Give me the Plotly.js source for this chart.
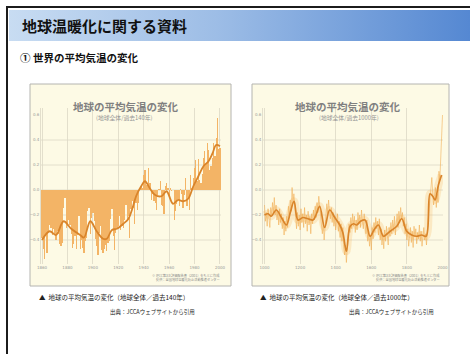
<!DOCTYPE html>
<html lang="ja">
<head>
<meta charset="utf-8">
<title>地球温暖化に関する資料</title>
<script src="https://cdn.plot.ly/plotly-3.0.1.min.js"></script>
<style>
  html, body { margin: 0; padding: 0; background: #fff; }
  #slide { position: relative; width: 470px; height: 354px; overflow: hidden; background: #fff; }
  #frame { position: absolute; left: 6px; top: 6px; width: 480px; height: 360px;
           border-top: 2px solid #1c1c1c; border-left: 2px solid #1c1c1c; }
  #band { position: absolute; left: 9px; top: 10px; right: 0; height: 31px;
          background: linear-gradient(90deg, #c8dcf2 0%, #9dbde6 45%, #5588d2 100%); }
  #chart { position: absolute; left: 0; top: 0; width: 470px; height: 354px; }
</style>
</head>
<body>
<div id="slide">
  <div id="frame"></div>
  <div id="band"></div>
  <div id="chart"></div>
</div>
<script>
// Global mean temperature anomaly (°C), annual, 1860-2000
const startYear140 = 1860;
const annual140 = [
  -0.38,-0.47,-0.55,-0.36,-0.50,-0.33,-0.28,-0.30,-0.36,-0.31,
  -0.36,-0.40,-0.33,-0.35,-0.43,-0.45,-0.42,-0.14,-0.06,-0.30,
  -0.29,-0.24,-0.28,-0.35,-0.46,-0.43,-0.37,-0.47,-0.36,-0.21,
  -0.47,-0.40,-0.46,-0.50,-0.41,-0.38,-0.17,-0.14,-0.35,-0.22,
  -0.18,-0.25,-0.39,-0.45,-0.52,-0.34,-0.29,-0.48,-0.50,-0.47,
  -0.44,-0.49,-0.42,-0.41,-0.23,-0.15,-0.37,-0.48,-0.34,-0.30,
  -0.29,-0.21,-0.32,-0.29,-0.30,-0.24,-0.12,-0.23,-0.21,-0.38,
  -0.15,-0.09,-0.14,-0.27,-0.10,-0.16,-0.10, 0.02, 0.04, 0.02,
   0.12, 0.16, 0.04, 0.05, 0.18, 0.06,-0.08,-0.03,-0.09,-0.10,
  -0.16,-0.04, 0.01, 0.07,-0.12,-0.13,-0.19, 0.03, 0.06, 0.02,
  -0.05, 0.02,-0.01, 0.00,-0.24,-0.17,-0.11,-0.07,-0.13, 0.01,
  -0.03,-0.14,-0.04, 0.10,-0.13,-0.07,-0.16, 0.12, 0.02, 0.10,
   0.18, 0.24, 0.07, 0.25, 0.08, 0.06, 0.13, 0.26, 0.31, 0.21,
   0.38, 0.32, 0.16, 0.19, 0.26, 0.38, 0.27, 0.42, 0.58, 0.33,
   0.34
];
const years140 = annual140.map((_, i) => startYear140 + i);

// Smoothed curve, 1860-2000
const smoothYears140 = [1860,1866,1871,1877,1883,1890,1893,1898,1903,1908,1911,1915,1919,1924,1928,1931,1934,1938,1941,1945,1949,1954,1958,1963,1967,1971,1975,1979,1983,1987,1991,1994,1997,2000];
const smooth140 = [-0.40,-0.33,-0.36,-0.25,-0.31,-0.36,-0.38,-0.25,-0.33,-0.39,-0.39,-0.32,-0.31,-0.27,-0.23,-0.15,-0.05,0.03,0.07,0.01,-0.04,-0.05,-0.01,-0.11,-0.08,-0.09,-0.07,0.03,0.11,0.19,0.23,0.29,0.36,0.35];

// Reconstructed anomaly, 1000-2000, one value every 5 years
const startYear1000 = 1000;
const stepYears1000 = 5;
const annual1000 = [
  -0.12,-0.25,-0.18,-0.29,-0.15,-0.22,-0.30,-0.14,-0.21,-0.10,-0.19,-0.06,-0.20,-0.12,-0.24,-0.17,-0.28,-0.15,-0.26,-0.19,
  -0.31,-0.22,-0.36,-0.25,-0.33,-0.21,-0.30,-0.13,-0.22,-0.08,-0.17, 0.02,-0.11,-0.03,-0.14,-0.22,-0.31,-0.18,-0.29,-0.20,
  -0.32,-0.15,-0.26,-0.19,-0.30,-0.14,-0.27,-0.20,-0.33,-0.17,-0.28,-0.21,-0.35,-0.19,-0.27,-0.16,-0.24,-0.13,-0.22,-0.10,
  -0.18,-0.05,-0.15,-0.20,-0.28,-0.35,-0.26,-0.40,-0.29,-0.22,-0.11,-0.19,-0.08,-0.17,-0.23,-0.14,-0.26,-0.18,-0.29,-0.21,
  -0.32,-0.24,-0.19,-0.33,-0.25,-0.38,-0.27,-0.41,-0.30,-0.45,-0.52,-0.44,-0.58,-0.47,-0.36,-0.27,-0.34,-0.22,-0.31,-0.19,
  -0.29,-0.21,-0.34,-0.24,-0.32,-0.18,-0.27,-0.20,-0.30,-0.16,-0.25,-0.31,-0.19,-0.28,-0.35,-0.24,-0.41,-0.33,-0.45,-0.36,
  -0.48,-0.30,-0.39,-0.26,-0.34,-0.22,-0.31,-0.25,-0.36,-0.23,-0.40,-0.31,-0.44,-0.35,-0.47,-0.32,-0.41,-0.29,-0.38,-0.44,
  -0.30,-0.37,-0.26,-0.35,-0.24,-0.33,-0.21,-0.36,-0.27,-0.19,-0.30,-0.17,-0.26,-0.14,-0.23,-0.18,-0.29,-0.22,-0.35,-0.27,
  -0.40,-0.31,-0.45,-0.38,-0.30,-0.42,-0.33,-0.46,-0.29,-0.37,-0.31,-0.43,-0.34,-0.39,-0.28,-0.41,-0.33,-0.45,-0.36,-0.30,
  -0.40,-0.35,-0.44,-0.28,-0.22,-0.15,-0.06, 0.04, 0.10,-0.02,-0.12,-0.05, 0.02,-0.14,-0.03,-0.10, 0.15, 0.08, 0.30, 0.36,
   0.60
];
const years1000 = annual1000.map((_, i) => startYear1000 + stepYears1000 * i);

// Smoothed curve, 1000-2000
const smoothYears1000 = [1000,1020,1038,1066,1095,1123,1145,1166,1188,1216,1244,1273,1292,1310,1338,1366,1395,1423,1440,1460,1481,1500,1518,1540,1565,1593,1615,1640,1668,1690,1706,1743,1771,1799,1827,1855,1883,1908,1930,1945,1958,1977,1995];
const smooth1000 = [-0.20,-0.19,-0.21,-0.16,-0.22,-0.28,-0.18,-0.09,-0.24,-0.22,-0.23,-0.24,-0.19,-0.13,-0.30,-0.16,-0.22,-0.28,-0.34,-0.49,-0.29,-0.27,-0.28,-0.25,-0.24,-0.37,-0.32,-0.28,-0.37,-0.35,-0.33,-0.29,-0.23,-0.33,-0.36,-0.37,-0.36,-0.37,-0.03,-0.05,-0.08,0.04,0.12];

// Axis ticks and texts
const yTicks = [-0.4, -0.2, 0.0, 0.2, 0.4, 0.6];
const yGrid = [-0.4, -0.2, 0.0, 0.2, 0.4];
const chartTitle = "地球の平均気温の変化";
const chartSub140 = "(地球全体/過去140年)";
const chartSub1000 = "(地球全体/過去1000年)";
const caption140 = "▲  地球の平均気温の変化（地球全体／過去140年）";
const caption1000 = "▲  地球の平均気温の変化（地球全体／過去1000年）";
const sourceText = "出典：JCCAウェブサイトから引用";
const noteLines = ["※ IPCC第3次評価報告書（2001）をもとに作成", "提供：全国地球温暖化防止活動推進センター"];

// ---- layout helpers (pixel -> paper) ----
const W = 470, H = 354;
const px = x => x / W;
const py = y => 1 - y / H;
const JP = "Noto Sans CJK JP, Noto Sans, sans-serif";

const orangeBar = "#f3b466";
const orangeLine = "#d9842a";
const gridColor = "#dcd8c6";

const traces = [
  { type: "bar", x: years140, y: annual140, xaxis: "x", yaxis: "y",
    marker: { color: orangeBar, line: { width: 0 } }, hoverinfo: "skip" },
  { type: "scatter", mode: "lines", x: smoothYears140, y: smooth140, xaxis: "x", yaxis: "y",
    line: { color: orangeLine, width: 1.8, shape: "spline", smoothing: 1 }, hoverinfo: "skip" },

  { type: "scatter", mode: "lines", x: smoothYears1000, y: smooth1000, xaxis: "x2", yaxis: "y2",
    line: { color: "rgba(247,185,95,0.25)", width: 8, shape: "spline", smoothing: 1 }, hoverinfo: "skip" },
  { type: "scatter", mode: "lines", x: years1000, y: annual1000, xaxis: "x2", yaxis: "y2",
    line: { color: "rgba(240,170,78,0.7)", width: 0.8 }, hoverinfo: "skip" },
  { type: "scatter", mode: "lines", x: smoothYears1000, y: smooth1000, xaxis: "x2", yaxis: "y2",
    line: { color: orangeLine, width: 1.7, shape: "spline", smoothing: 1 }, hoverinfo: "skip" }
];

const yDomain = [py(264), py(108)];
const yRange = [-0.592, 0.656];
const tickFont = { family: "DejaVu Sans, sans-serif", size: 4, color: "#9a9a9a" };

const yAxisCommon = {
  domain: yDomain, range: yRange, tickvals: yTicks, tickformat: ".1f",
  showgrid: false, zeroline: false, showline: true, linecolor: gridColor, linewidth: 0.8,
  ticks: "", tickfont: tickFont, fixedrange: true
};
const xAxisCommon = {
  showgrid: true, gridcolor: gridColor, gridwidth: 0.8, zeroline: false, showline: false,
  ticks: "", tickfont: tickFont, fixedrange: true
};

const shapes = [];
// chart panels
[[30, 231], [252, 449]].forEach(([x0, x1]) => {
  shapes.push({ type: "rect", xref: "paper", yref: "paper", layer: "below",
    x0: px(x0), x1: px(x1), y0: py(286), y1: py(84),
    fillcolor: "#fdfae5", line: { color: "#b4b4b0", width: 1 } });
});
// horizontal grid lines
[["x", "y"], ["x2", "y2"]].forEach(([xa, ya]) => {
  yGrid.forEach(v => shapes.push({ type: "line", layer: "below",
    xref: xa + " domain", x0: 0, x1: 1, yref: ya, y0: v, y1: v,
    line: { color: gridColor, width: 0.8 } }));
});

const annotations = [
  { text: "地球温暖化に関する資料", x: px(20), y: py(25.5), xanchor: "left", yanchor: "middle",
    font: { family: JP, size: 15, color: "#111", weight: 700 } },
  { text: "① 世界の平均気温の変化", x: px(18), y: py(57), xanchor: "left", yanchor: "middle",
    font: { family: JP, size: 10.5, color: "#111", weight: 700 } },

  { text: chartTitle, x: px(126), y: py(106), xanchor: "center", yanchor: "middle",
    font: { family: JP, size: 10.5, color: "#808080", weight: 700 } },
  { text: chartSub140, x: px(124), y: py(117), xanchor: "center", yanchor: "middle",
    font: { family: JP, size: 5.8, color: "#959595" } },
  { text: chartTitle, x: px(348), y: py(106), xanchor: "center", yanchor: "middle",
    font: { family: JP, size: 10.5, color: "#808080", weight: 700 } },
  { text: chartSub1000, x: px(349), y: py(117), xanchor: "center", yanchor: "middle",
    font: { family: JP, size: 5.8, color: "#959595" } },

  { text: caption140, x: px(37), y: py(297), xanchor: "left", yanchor: "middle",
    font: { family: JP, size: 6.5, color: "#222" } },
  { text: caption1000, x: px(258), y: py(297), xanchor: "left", yanchor: "middle",
    font: { family: JP, size: 6.5, color: "#222" } },
  { text: sourceText, x: px(197), y: py(312), xanchor: "right", yanchor: "middle",
    font: { family: JP, size: 5.5, color: "#222" } },
  { text: sourceText, x: px(436), y: py(312), xanchor: "right", yanchor: "middle",
    font: { family: JP, size: 5.5, color: "#222" } }
];
[222, 442].forEach(xr => {
  noteLines.forEach((t, i) => annotations.push({ text: t, x: px(xr), y: py(275.5 + i * 3.8),
    xanchor: "right", yanchor: "middle", font: { family: JP, size: 3.2, color: "#8a8a8a" } }));
});
annotations.forEach(a => { a.xref = "paper"; a.yref = "paper"; a.showarrow = false; });

const layout = {
  width: W, height: H, margin: { l: 0, r: 0, t: 0, b: 0, pad: 0 },
  paper_bgcolor: "rgba(0,0,0,0)", plot_bgcolor: "rgba(0,0,0,0)",
  showlegend: false, bargap: 0,
  xaxis: Object.assign({}, xAxisCommon, { domain: [px(41), px(221)], range: [1859.2, 2000.8],
    tick0: 1860, dtick: 20, anchor: "y" }),
  yaxis: Object.assign({}, yAxisCommon, { anchor: "x" }),
  xaxis2: Object.assign({}, xAxisCommon, { domain: [px(263), px(443)], range: [991.6, 2002.8],
    tick0: 1000, dtick: 200, anchor: "y2" }),
  yaxis2: Object.assign({}, yAxisCommon, { anchor: "x2" }),
  shapes: shapes,
  annotations: annotations
};

Plotly.newPlot("chart", traces, layout, { staticPlot: true, displayModeBar: false });
</script>
</body>
</html>
